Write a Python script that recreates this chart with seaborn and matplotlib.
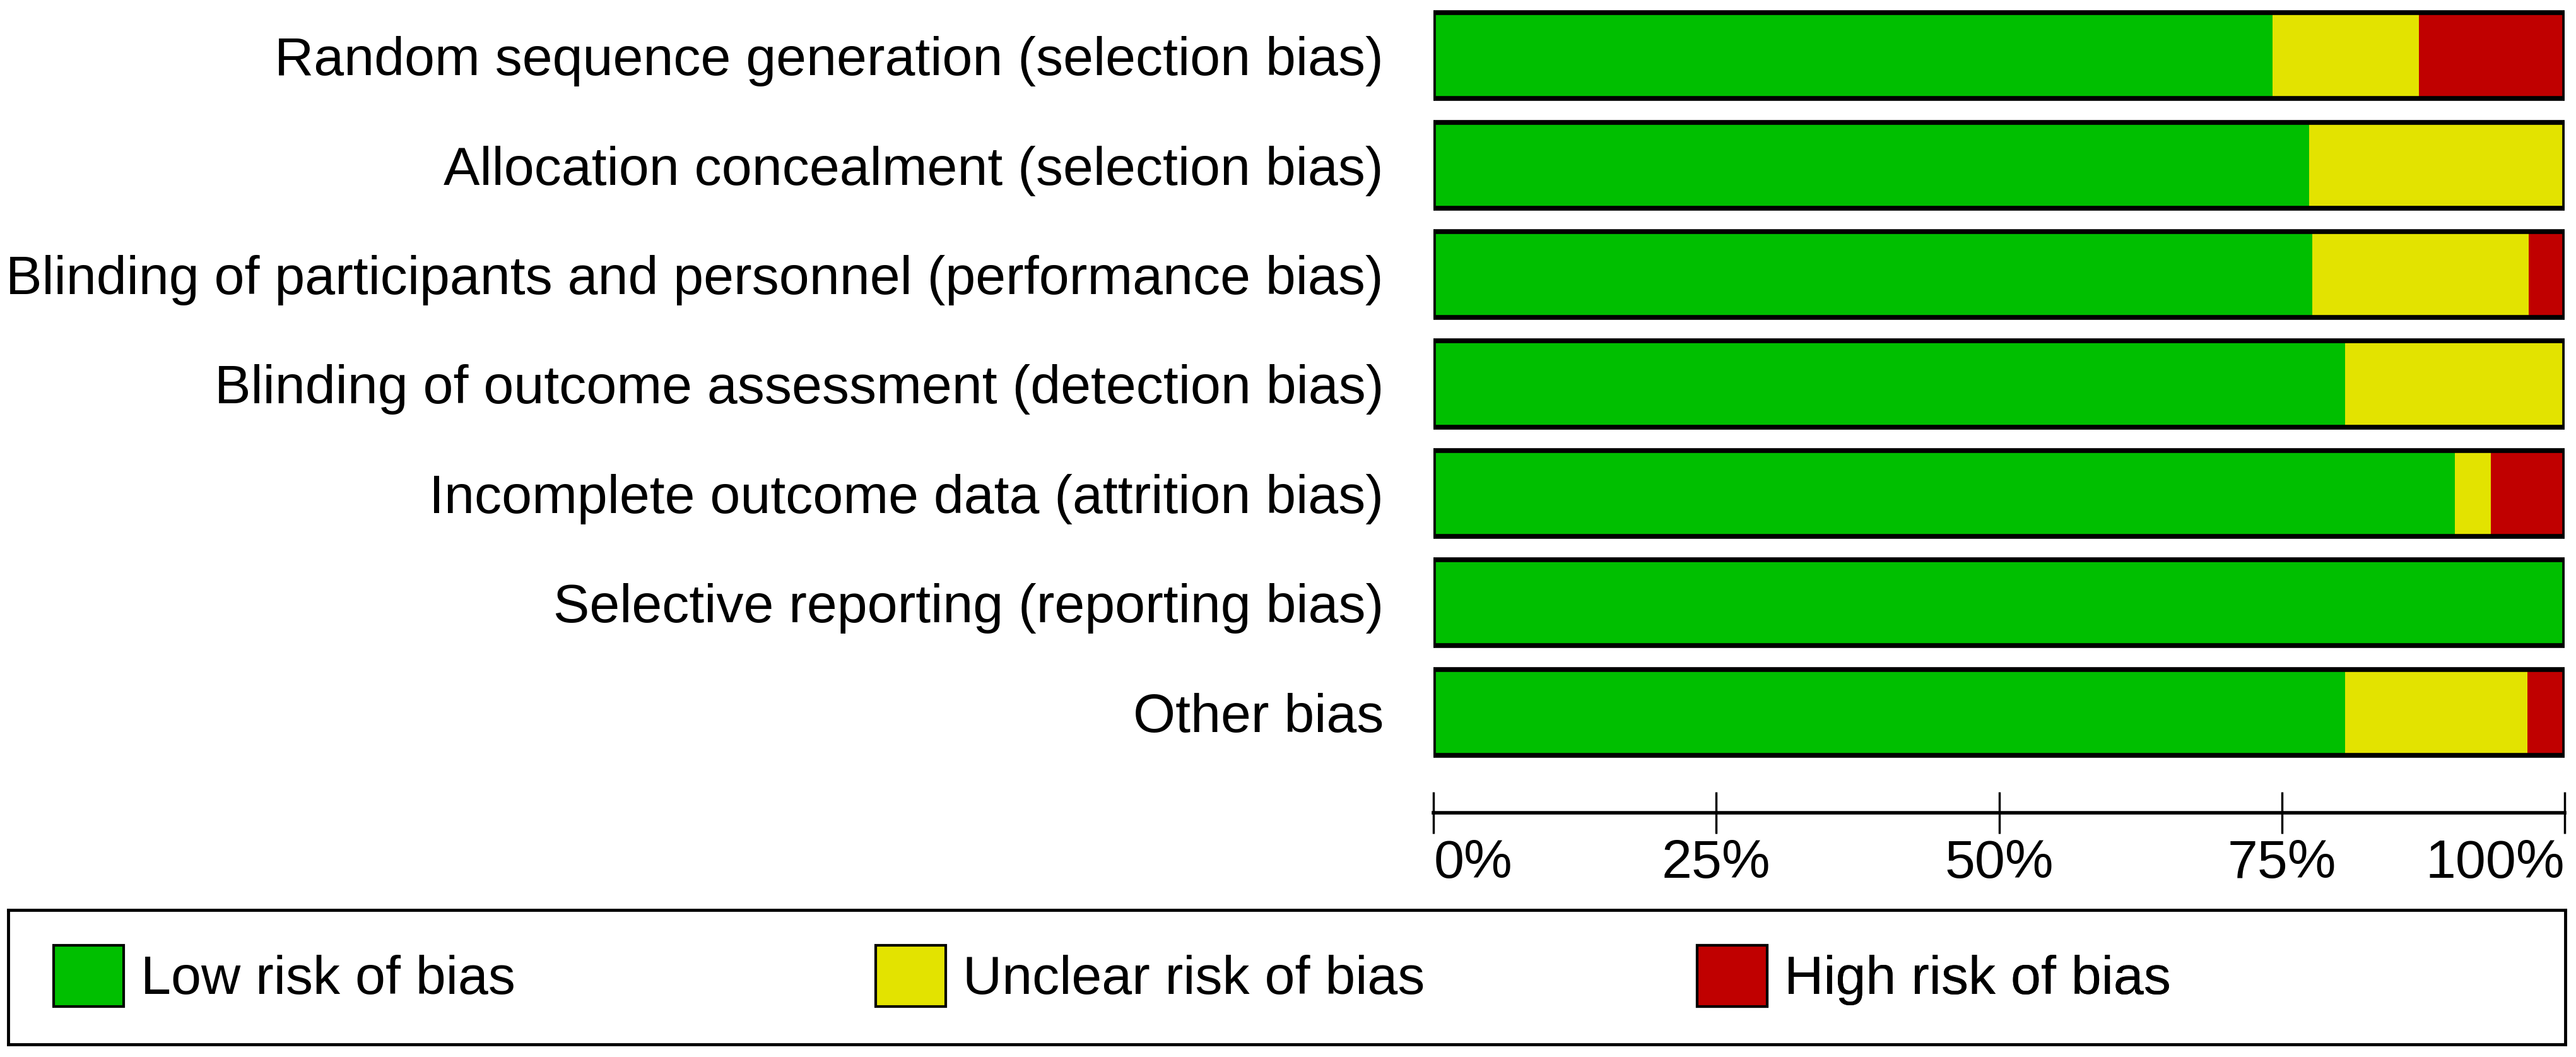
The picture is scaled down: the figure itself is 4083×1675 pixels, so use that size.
import numpy as np
import pandas as pd
import matplotlib
matplotlib.use("Agg")
import matplotlib.pyplot as plt
import seaborn as sns
from matplotlib.patches import Patch

domains = [
    "Random sequence generation (selection bias)",
    "Allocation concealment (selection bias)",
    "Blinding of participants and personnel (performance bias)",
    "Blinding of outcome assessment (detection bias)",
    "Incomplete outcome data (attrition bias)",
    "Selective reporting (reporting bias)",
    "Other bias",
]
# percent of studies per judgement
low_risk = [74.2, 77.4, 77.7, 80.6, 90.3, 100.0, 80.6]
unclear_risk = [12.9, 22.6, 19.1, 19.4, 3.2, 0.0, 16.1]
high_risk = [12.9, 0.0, 3.2, 0.0, 6.5, 0.0, 3.3]
legend_labels = ["Low risk of bias", "Unclear risk of bias", "High risk of bias"]
tick_vals = [0, 25, 50, 75, 100]
tick_labels = ["0%", "25%", "50%", "75%", "100%"]

green = "#00BF00"
yellow = "#E3E300"
red = "#C00000"

df = pd.DataFrame({"domain": domains, "low": low_risk,
                   "unclear": unclear_risk, "high": high_risk})
df["low_unclear"] = df["low"] + df["unclear"]
df["total"] = df["low_unclear"] + df["high"]

sns.set_style("white")
plt.rcParams["font.family"] = ["Liberation Sans", "DejaVu Sans"]
plt.rcParams["text.color"] = "black"
plt.rcParams["xtick.color"] = "black"
plt.rcParams["ytick.color"] = "black"
plt.rcParams["xtick.labelcolor"] = "black"
plt.rcParams["ytick.labelcolor"] = "black"

fig = plt.figure(figsize=(40.83, 16.75), dpi=100)
ax = fig.add_axes([0.5565, 0.231, 0.4391, 0.769])

bw = 0.785
# stacked: draw cumulative totals back to front
sns.barplot(data=df, x="total", y="domain", orient="h", color=red,
            width=bw, linewidth=0, saturation=1, ax=ax)
sns.barplot(data=df, x="low_unclear", y="domain", orient="h", color=yellow,
            width=bw, linewidth=0, saturation=1, ax=ax)
sns.barplot(data=df, x="low", y="domain", orient="h", color=green,
            width=bw, linewidth=0, saturation=1, ax=ax)
# black outline round each whole bar
sns.barplot(data=df, x="total", y="domain", orient="h", fill=False,
            edgecolor="black", linewidth=5.5, width=bw, ax=ax)

ax.set_xlim(0, 100)
ax.set_ylim(6.92, -0.51)
ax.set_xlabel("")
ax.set_ylabel("")
ax.set_xticks(tick_vals)
ax.set_xticklabels(tick_labels)
for i, lab in enumerate(ax.get_xticklabels()):
    if i == 0:
        lab.set_horizontalalignment("left")
    elif i == len(tick_vals) - 1:
        lab.set_horizontalalignment("right")
ax.tick_params(axis="x", direction="inout", length=47, width=2.5,
               labelsize=62, pad=6, color="black", labelcolor="black",
               bottom=True)
ax.tick_params(axis="y", length=0, labelsize=62, pad=57, labelcolor="black")
for s in ["top", "right", "left"]:
    ax.spines[s].set_visible(False)
ax.spines["bottom"].set_linewidth(4)
ax.spines["bottom"].set_color("black")
ax.grid(False)

# legend box along the bottom
lax = fig.add_axes([0.0032, 0.0119, 0.9926, 0.1272])
lax.set_xticks([])
lax.set_yticks([])
for s in lax.spines.values():
    s.set_linewidth(3.5)
    s.set_color("black")

colors = [green, yellow, red]
xpos = [0.0178, 0.3393, 0.6605]
for lbl, col, xp in zip(legend_labels, colors, xpos):
    h = Patch(facecolor=col, edgecolor="black", linewidth=3)
    leg = lax.legend([h], [lbl], loc="center left", bbox_to_anchor=(xp, 0.51),
                     frameon=False, fontsize=62, handlelength=1.29,
                     handleheight=1.37, handletextpad=0.31,
                     borderpad=0, borderaxespad=0, labelcolor="black")
    lax.add_artist(leg)

fig.savefig("out.png", dpi=100)
